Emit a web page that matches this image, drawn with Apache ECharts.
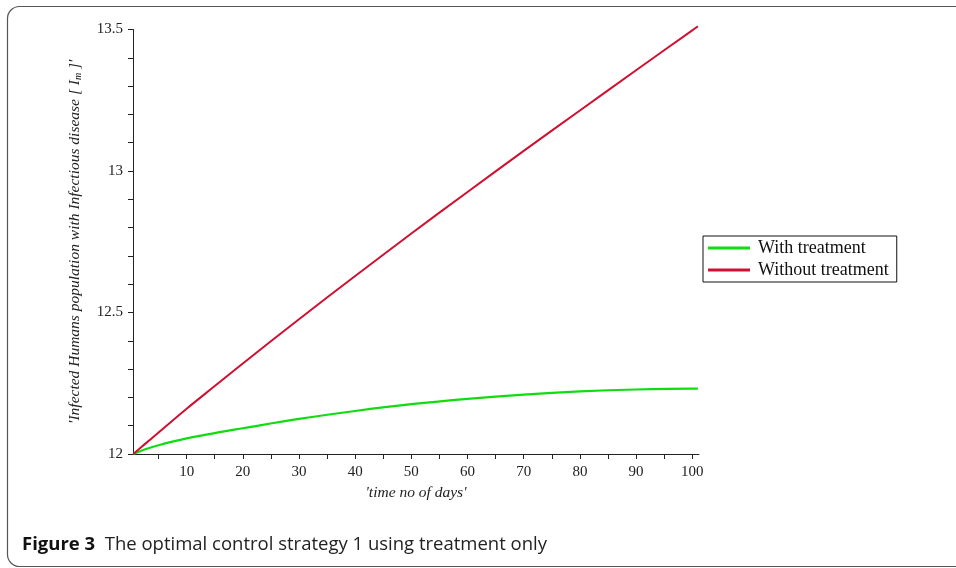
<!DOCTYPE html>
<html>
<head>
<meta charset="utf-8">
<script src="https://cdn.jsdelivr.net/npm/echarts@6/dist/echarts.min.js"></script>
<style>
html,body{margin:0;padding:0;background:#fff;}
#chart{width:956px;height:568px;}
</style>
</head>
<body>
<div id="chart"></div>
<script>
// ---- data ----
const days = [0.5, 2.5, 5, 10, 15, 20, 30, 40, 50, 60, 70, 80, 90, 100, 101];
const withTreatment = [12.000, 12.016, 12.031, 12.055, 12.074, 12.091, 12.124, 12.152, 12.176, 12.195, 12.210, 12.221, 12.228, 12.231, 12.231];
const withoutTreatment = [12.000, 12.034, 12.076, 12.160, 12.240, 12.320, 12.476, 12.629, 12.779, 12.926, 13.071, 13.214, 13.356, 13.497, 13.511];
const xTickValues = [5, 10, 15, 20, 25, 30, 35, 40, 45, 50, 55, 60, 65, 70, 75, 80, 85, 90, 95, 100];
const xLabelValues = [10, 20, 30, 40, 50, 60, 70, 80, 90, 100];
const seriesNames = ['With treatment', 'Without treatment'];
const captionBold = 'Figure 3';
const captionText = 'The optimal control strategy 1 using treatment only';

const serif = '"Liberation Serif", "DejaVu Serif", serif';
const pair = (ys) => days.map((d, i) => [d, ys[i]]);

const chart = echarts.init(document.getElementById('chart'));
chart.setOption({
  backgroundColor: '#ffffff',
  animation: false,
  grid: { left: 133, right: 257, top: 29.5, bottom: 114 },
  xAxis: {
    type: 'value',
    min: 0.45,
    max: 101.2,
    name: "'time no of days'",
    nameLocation: 'middle',
    nameGap: 30,
    nameTextStyle: { fontFamily: serif, fontStyle: 'italic', fontSize: 15.5, color: '#222' },
    axisLine: { show: true, lineStyle: { color: '#222', width: 1 } },
    axisTick: { show: true, inside: false, length: 5, customValues: xTickValues, lineStyle: { color: '#222' } },
    axisLabel: { customValues: xLabelValues, fontFamily: serif, fontSize: 15, color: '#222', margin: 11 },
    splitLine: { show: false }
  },
  yAxis: {
    type: 'value',
    min: 12,
    max: 13.5,
    interval: 0.5,
    name: "'Infected Humans population with Infectious disease [ I{s|m} ]'",
    nameLocation: 'middle',
    nameGap: 50,
    nameTextStyle: {
      fontFamily: serif, fontStyle: 'italic', fontSize: 15.5, color: '#222',
      rich: { s: { fontFamily: serif, fontStyle: 'italic', fontSize: 10, color: '#222', verticalAlign: 'bottom', padding: [6, 0, 0, 0] } }
    },
    axisLine: { show: true, lineStyle: { color: '#222', width: 1 } },
    axisTick: { show: true, inside: false, length: 5, lineStyle: { color: '#222' } },
    minorTick: { show: true, splitNumber: 5, length: 5, lineStyle: { color: '#222' } },
    axisLabel: {
      fontFamily: serif, fontSize: 15, color: '#222', margin: 10,
      formatter: (v) => String(v)
    },
    splitLine: { show: false }
  },
  legend: {
    orient: 'vertical',
    left: 703,
    top: 236,
    data: seriesNames,
    icon: 'rect',
    itemWidth: 42,
    itemHeight: 3,
    itemGap: 4,
    padding: [3, 8, 3, 5],
    borderColor: '#111',
    borderWidth: 1,
    backgroundColor: '#fff',
    textStyle: { fontFamily: serif, fontSize: 18, lineHeight: 18, color: '#111', padding: [0, 0, 0, 3] }
  },
  series: [
    {
      name: seriesNames[0], type: 'line', data: pair(withTreatment), smooth: 0.4,
      symbol: 'none', clip: false, color: '#10dd10',
      lineStyle: { width: 2.2, color: '#10dd10' }
    },
    {
      name: seriesNames[1], type: 'line', data: pair(withoutTreatment), smooth: 0.4,
      symbol: 'none', clip: false, color: '#d01030',
      lineStyle: { width: 2, color: '#d01030' }
    }
  ],
  graphic: [
    {
      type: 'rect', silent: true, z: -1,
      shape: { x: 7.5, y: 6.5, width: 1000, height: 560, r: 12 },
      style: { fill: 'none', stroke: '#555', lineWidth: 1.2 }
    },
    {
      type: 'text', left: 22, top: 535,
      style: {
        text: '{b|' + captionBold + '}  ' + captionText,
        font: '18.5px "Open Sans", "Noto Sans", sans-serif',
        fill: '#222',
        rich: { b: { fontFamily: '"Open Sans", "Noto Sans", sans-serif', fontWeight: 'bold', fontSize: 18.5, fill: '#111' } }
      }
    }
  ]
});
</script>
</body>
</html>
